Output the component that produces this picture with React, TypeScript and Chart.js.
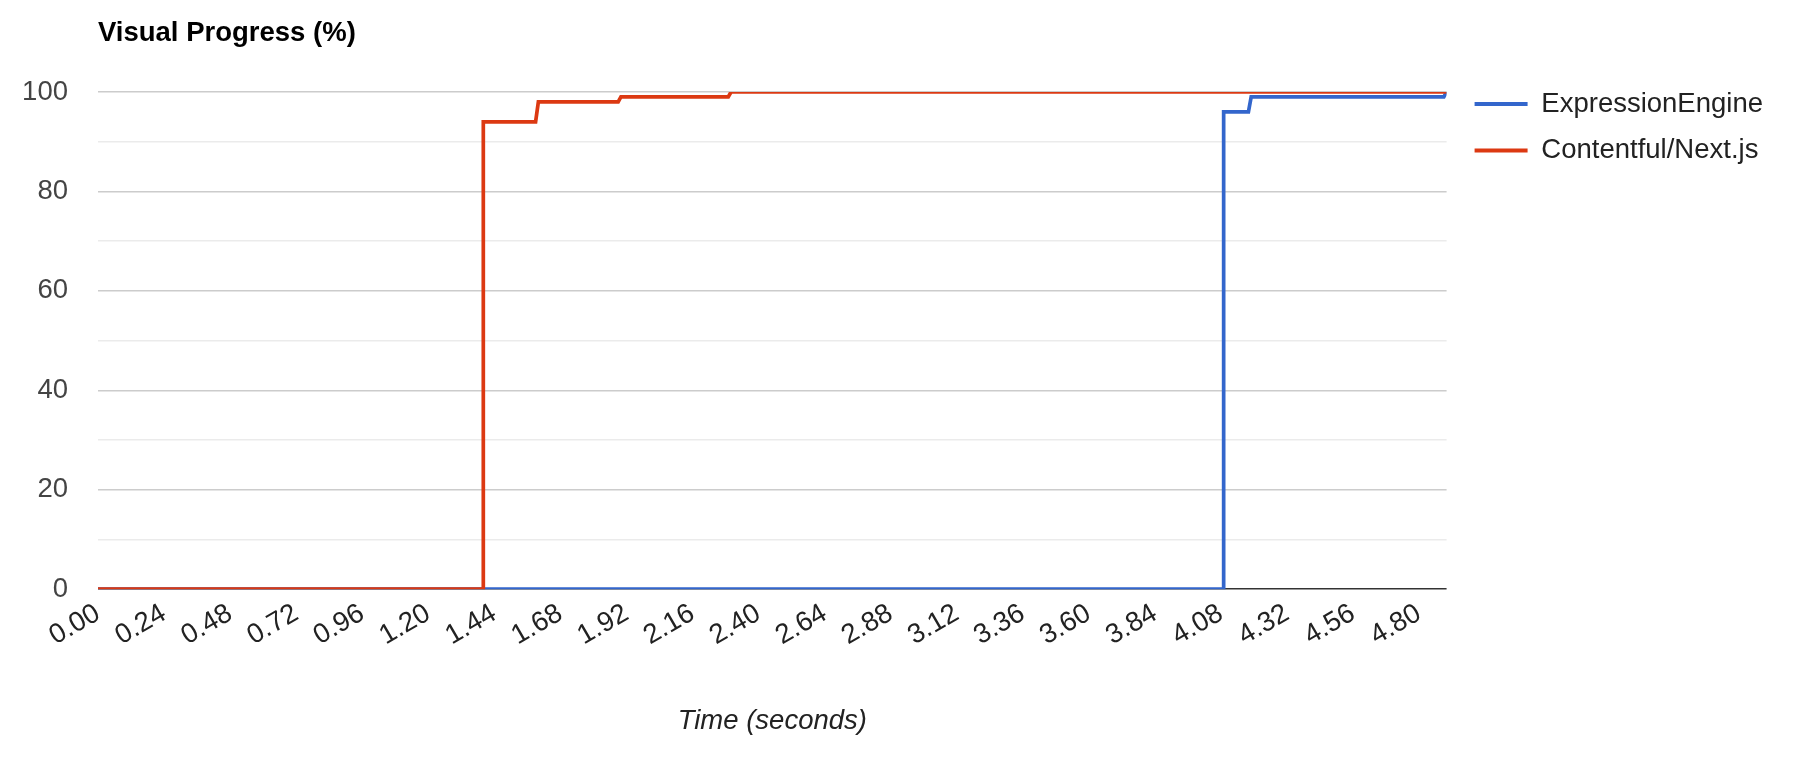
import React, { useEffect, useRef } from "react";
import { Chart, registerables } from "chart.js";

Chart.register(...registerables);

const CHART_TITLE = "Visual Progress (%)";
const X_TITLE = "Time (seconds)";
const SERIES_NAMES = ["ExpressionEngine", "Contentful/Next.js"];
const SERIES_COLORS = ["#3366cc", "#dc3912"];

// ExpressionEngine visual progress (time in seconds, progress in %)
const EE_TIME = [0, 4.09, 4.09, 4.18, 4.19, 4.89, 4.9];
const EE_PROGRESS = [0, 0, 96, 96, 99, 99, 100];

// Contentful/Next.js visual progress
const CN_TIME = [0, 1.4, 1.4, 1.59, 1.6, 1.89, 1.9, 2.29, 2.3, 4.9];
const CN_PROGRESS = [0, 0, 94, 94, 98, 98, 99, 99, 100, 100];

const X_TICKS = [
  0, 0.24, 0.48, 0.72, 0.96, 1.2, 1.44, 1.68, 1.92, 2.16, 2.4, 2.64, 2.88,
  3.12, 3.36, 3.6, 3.84, 4.08, 4.32, 4.56, 4.8,
];
const X_MAX = 4.9;
const Y_TICKS = [0, 10, 20, 30, 40, 50, 60, 70, 80, 90, 100];
const Y_LABELED = [0, 20, 40, 60, 80, 100];

const FONT = "'Liberation Sans', Arial, Helvetica, sans-serif";
const FS = 27.5;

export default function App() {
  const ref = useRef<HTMLCanvasElement | null>(null);

  useEffect(() => {
    if (!ref.current) return;
    Chart.defaults.font.family = FONT;
    const toPoints = (xs: number[], ys: number[]) => xs.map((x, i) => ({ x, y: ys[i] }));
    const baseLabels = Chart.defaults.plugins.legend.labels.generateLabels;

    const chart = new Chart(ref.current, {
      type: "line",
      data: {
        datasets: [
          {
            label: SERIES_NAMES[0],
            data: toPoints(EE_TIME, EE_PROGRESS),
            borderColor: SERIES_COLORS[0],
            backgroundColor: SERIES_COLORS[0],
            borderWidth: 3.7,
            pointRadius: 0,
            tension: 0,
            order: 1,
          },
          {
            label: SERIES_NAMES[1],
            data: toPoints(CN_TIME, CN_PROGRESS),
            borderColor: SERIES_COLORS[1],
            backgroundColor: SERIES_COLORS[1],
            borderWidth: 3.7,
            pointRadius: 0,
            tension: 0,
            order: 0,
          },
        ],
      },
      options: {
        animation: false,
        responsive: false,
        maintainAspectRatio: false,
        layout: { padding: { top: 10, left: 22, right: 25, bottom: 10 } },
        plugins: {
          tooltip: { enabled: false },
          title: {
            display: true,
            text: CHART_TITLE,
            align: "start",
            fullSize: false,
            color: "#000",
            font: { size: FS, weight: "bold", family: FONT },
            padding: { top: 6.5, bottom: 42.5 },
          },
          legend: {
            position: "right",
            align: "start",
            fullSize: true,
            title: {
              display: true,
              text: " ",
              font: { size: FS, family: FONT },
              padding: { top: 28.25, bottom: 0 },
            },
            labels: {
              boxWidth: 62,
              boxHeight: 0,
              padding: 19,
              color: "#222",
              font: { size: FS, family: FONT },
              sort: (a: any, b: any) => a.datasetIndex - b.datasetIndex,
              generateLabels: (c: any) =>
                baseLabels(c).map((item: any) => ({
                  ...item,
                  lineWidth: 4,
                  lineDash: [0, 9, 53, 400],
                  lineDashOffset: 0,
                })),
            },
          },
        },
        scales: {
          x: {
            type: "linear",
            min: 0,
            max: X_MAX,
            grid: { display: false },
            border: { display: false },
            afterBuildTicks: (scale: any) => {
              scale.ticks = X_TICKS.map((v) => ({ value: v }));
            },
            ticks: {
              autoSkip: false,
              minRotation: 30,
              maxRotation: 30,
              padding: 0,
              color: "#222",
              font: { size: FS, family: FONT },
              callback: (v: any) => Number(v).toFixed(2),
            },
            title: {
              display: true,
              text: X_TITLE,
              color: "#222",
              font: { size: FS, style: "italic", family: FONT },
              padding: { top: 52.7, bottom: 11.8 },
            },
          },
          y: {
            type: "linear",
            min: 0,
            max: 100,
            border: { display: false },
            afterBuildTicks: (scale: any) => {
              scale.ticks = Y_TICKS.map((v) => ({ value: v }));
            },
            afterFit: (scale: any) => {
              scale.width = 76;
            },
            grid: {
              drawTicks: false,
              lineWidth: 1.5,
              color: (ctx: any) =>
                ctx.tick && ctx.tick.value === 0
                  ? "#333333"
                  : ctx.tick && Y_LABELED.includes(ctx.tick.value)
                  ? "#cccccc"
                  : "#ebebeb",
            },
            ticks: {
              padding: 30,
              color: "#444",
              font: { size: FS, family: FONT },
              callback: (v: any) => (Y_LABELED.includes(Number(v)) ? String(v) : ""),
            },
          },
        },
      },
    });
    return () => chart.destroy();
  }, []);

  return (
    <div style={{ position: "absolute", left: 0, top: 0, width: 1798, height: 760, background: "#fff" }}>
      <canvas ref={ref} width={1798} height={760} style={{ display: "block", width: 1798, height: 760 }} />
    </div>
  );
}
